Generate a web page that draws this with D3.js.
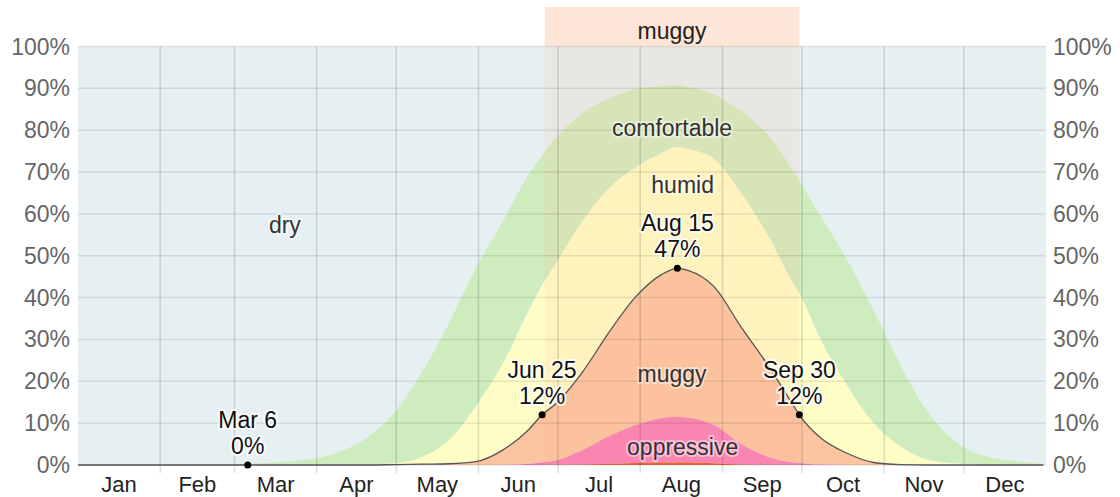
<!DOCTYPE html>
<html>
<head>
<meta charset="utf-8">
<script src="https://cdn.jsdelivr.net/npm/d3@7"></script>
<style>
    body { margin: 0; background: #fff; }
    svg { display: block; font-family: Arial, "Liberation Sans", sans-serif; }
</style>
</head>
<body>
<svg></svg>
<script>
// day of year (0 = Jan 1)
const days = [0, 10, 20, 30, 40, 50, 60, 70, 80, 90, 100, 110, 120, 130, 140, 150, 160, 170, 175,
    180, 190, 200, 210, 220, 226, 230, 240, 250, 260, 270, 272, 280, 290, 300, 310, 320, 330, 340, 350, 360, 364];

// cumulative percentages, bottom band first
const miserable = [0, 0, 0, 0, 0, 0, 0, 0, 0, 0, 0, 0, 0, 0, 0, 0, 0, 0, 0,
    0, 0.1, 0.3, 0.5, 0.6, 0.6, 0.6, 0.4, 0.1, 0, 0, 0, 0, 0, 0, 0, 0, 0, 0, 0, 0, 0];
const oppressiveOrWorse = [0, 0, 0, 0, 0, 0, 0, 0, 0, 0, 0, 0, 0, 0, 0, 0, 0, 0.3, 0.6,
    1, 3.5, 6.8, 9.5, 11.2, 11.5, 11.3, 9.5, 5, 2, 0.6, 0.5, 0.1, 0, 0, 0, 0, 0, 0, 0, 0, 0];
const muggyOrWorse = [0, 0, 0, 0, 0, 0, 0, 0, 0, 0, 0, 0, 0.1, 0.2, 0.3, 0.8, 3.5, 8.5, 12,
    14.5, 22, 31.5, 40, 45.5, 47, 46.5, 42.5, 33, 24, 14, 12, 6.5, 2.8, 0.6, 0.1, 0, 0, 0, 0, 0, 0];
const humidOrWorse = [0, 0, 0, 0, 0, 0, 0, 0, 0, 0, 0, 0.1, 0.4, 2, 6, 14, 24, 37, 43,
    48, 58, 66, 71, 74.5, 76, 75.5, 73, 65, 55, 43, 41, 30, 19, 10, 4.5, 1.3, 0.4, 0.1, 0, 0, 0];
const comfortableOrWorse = [0.1, 0.1, 0.1, 0.1, 0.1, 0.2, 0.3, 0.5, 0.9, 1.6, 3.5, 7, 13, 22.5, 34, 47, 58, 69.5, 74,
    78, 84, 87.5, 89.8, 90.5, 90.8, 90.3, 88.5, 84.5, 79, 70, 68, 59.5, 49, 37, 24, 13, 6, 2.5, 1.2, 0.5, 0.3];

const monthNames = ["Jan", "Feb", "Mar", "Apr", "May", "Jun", "Jul", "Aug", "Sep", "Oct", "Nov", "Dec"];
const monthStarts = [0, 31, 59, 90, 120, 151, 181, 212, 243, 273, 304, 334, 365];
const yTicks = [0, 10, 20, 30, 40, 50, 60, 70, 80, 90, 100];

const muggyPeriod = [176, 272];
const annotations = [
    {day: 64, value: 0, label: "Mar 6"},
    {day: 175, value: 12, label: "Jun 25"},
    {day: 226, value: 47, label: "Aug 15"},
    {day: 272, value: 12, label: "Sep 30"}
];
const bandLabels = [
    {text: "dry", day: 78, value: 57.3},
    {text: "comfortable", day: 224, value: 80.5},
    {text: "humid", day: 228, value: 66.8},
    {text: "muggy", day: 224, value: 21.8},
    {text: "oppressive", day: 228, value: 4.2}
];

const width = 1120, height = 497;
const fontSize = '23px';
const x = d3.scaleLinear().domain([0, 365]).range([78, 1046]);
const y = d3.scaleLinear().domain([0, 100]).range([465, 46.5]);

const svg = d3.select('svg').attr('width', width).attr('height', height);

// dry = everything above the comfortable band
svg.append('rect')
    .attr('x', x(0)).attr('y', y(100))
    .attr('width', x(365) - x(0)).attr('height', y(0) - y(100))
    .attr('fill', '#e6eff2');

const layers = [
    {top: comfortableOrWorse, bottom: humidOrWorse, fill: '#cfecbf'},
    {top: humidOrWorse, bottom: muggyOrWorse, fill: '#fefdc6'},
    {top: muggyOrWorse, bottom: oppressiveOrWorse, fill: '#fcc4a1'},
    {top: oppressiveOrWorse, bottom: miserable, fill: '#f77db8'},
    {top: miserable, bottom: days.map(() => 0), fill: '#e8552a'}
];

layers.forEach(function (l) {
    const area = d3.area()
        .curve(d3.curveMonotoneX)
        .x(function (d, i) { return x(days[i]) })
        .y0(function (d, i) { return y(l.bottom[i]) })
        .y1(function (d, i) { return y(l.top[i]) });
    svg.append('path')
        .datum(days)
        .attr('d', area)
        .attr('fill', l.fill);
});

// muggy period band
svg.append('rect')
    .attr('x', x(muggyPeriod[0])).attr('y', 7)
    .attr('width', x(muggyPeriod[1]) - x(muggyPeriod[0])).attr('height', y(100) - 7)
    .attr('fill', '#fde5d8');
svg.append('rect')
    .attr('x', x(muggyPeriod[0])).attr('y', y(100))
    .attr('width', x(muggyPeriod[1]) - x(muggyPeriod[0])).attr('height', y(0) - y(100))
    .attr('fill', '#ffb98c').attr('opacity', 0.15);
svg.append('text')
    .attr('x', (x(muggyPeriod[0]) + x(muggyPeriod[1])) / 2).attr('y', 39)
    .attr('text-anchor', 'middle')
    .style('font-size', fontSize).style('fill', '#222')
    .text('muggy');

// grid
svg.append('g').selectAll('line')
    .data(yTicks)
    .enter().append('line')
    .attr('x1', x(0)).attr('x2', x(365))
    .attr('y1', function (d) { return y(d) }).attr('y2', function (d) { return y(d) })
    .style('stroke', 'rgba(0,0,0,0.09)').style('stroke-width', 1.5);

svg.append('g').selectAll('line')
    .data(monthStarts.slice(1, 12))
    .enter().append('line')
    .attr('x1', function (d) { return x(d) }).attr('x2', function (d) { return x(d) })
    .attr('y1', y(100)).attr('y2', y(0) + 8)
    .style('stroke', 'rgba(0,0,0,0.13)').style('stroke-width', 1.5);

// muggy or worse line
svg.append('path')
    .datum(days)
    .attr('d', d3.line()
        .curve(d3.curveMonotoneX)
        .x(function (d, i) { return x(days[i]) })
        .y(function (d, i) { return y(muggyOrWorse[i]) }))
    .attr('fill', 'none')
    .style('stroke', '#555').style('stroke-width', 1.3);

// axes labels
const pct = function (d) { return d + '%' };
svg.append('g').selectAll('text')
    .data(yTicks)
    .enter().append('text')
    .attr('x', 70).attr('y', function (d) { return y(d) + 8 })
    .attr('text-anchor', 'end')
    .style('font-size', fontSize).style('fill', '#666')
    .text(pct);
svg.append('g').selectAll('text')
    .data(yTicks)
    .enter().append('text')
    .attr('x', 1053).attr('y', function (d) { return y(d) + 8 })
    .style('font-size', fontSize).style('fill', '#666')
    .text(pct);

svg.append('g').selectAll('text')
    .data(monthNames)
    .enter().append('text')
    .attr('x', function (d, i) { return x((monthStarts[i] + monthStarts[i + 1]) / 2) })
    .attr('y', 492)
    .attr('text-anchor', 'middle')
    .style('font-size', '22px').style('fill', '#222')
    .text(function (d) { return d });

// band labels
svg.append('g').selectAll('text')
    .data(bandLabels)
    .enter().append('text')
    .attr('x', function (d) { return x(d.day) })
    .attr('y', function (d) { return y(d.value) + 8 })
    .attr('text-anchor', 'middle')
    .style('font-size', fontSize).style('fill', '#333')
    .style('stroke', 'rgba(255,255,255,0.45)').style('stroke-width', 4)
    .style('paint-order', 'stroke').style('stroke-linejoin', 'round')
    .text(function (d) { return d.text });

// annotations
const ann = svg.append('g').selectAll('g')
    .data(annotations)
    .enter().append('g')
    .attr('transform', function (d) { return 'translate(' + x(d.day) + ',' + y(d.value) + ')' });

ann.append('text')
    .attr('y', -37)
    .text(function (d) { return d.label });
ann.append('text')
    .attr('y', -11)
    .text(function (d) { return d.value + '%' });
ann.selectAll('text')
    .attr('text-anchor', 'middle')
    .style('font-size', fontSize).style('fill', '#111')
    .style('stroke', 'rgba(255,255,255,0.8)').style('stroke-width', 4)
    .style('paint-order', 'stroke').style('stroke-linejoin', 'round');
ann.append('circle')
    .attr('r', 3.5)
    .style('fill', '#000');
</script>
</body>
</html>
